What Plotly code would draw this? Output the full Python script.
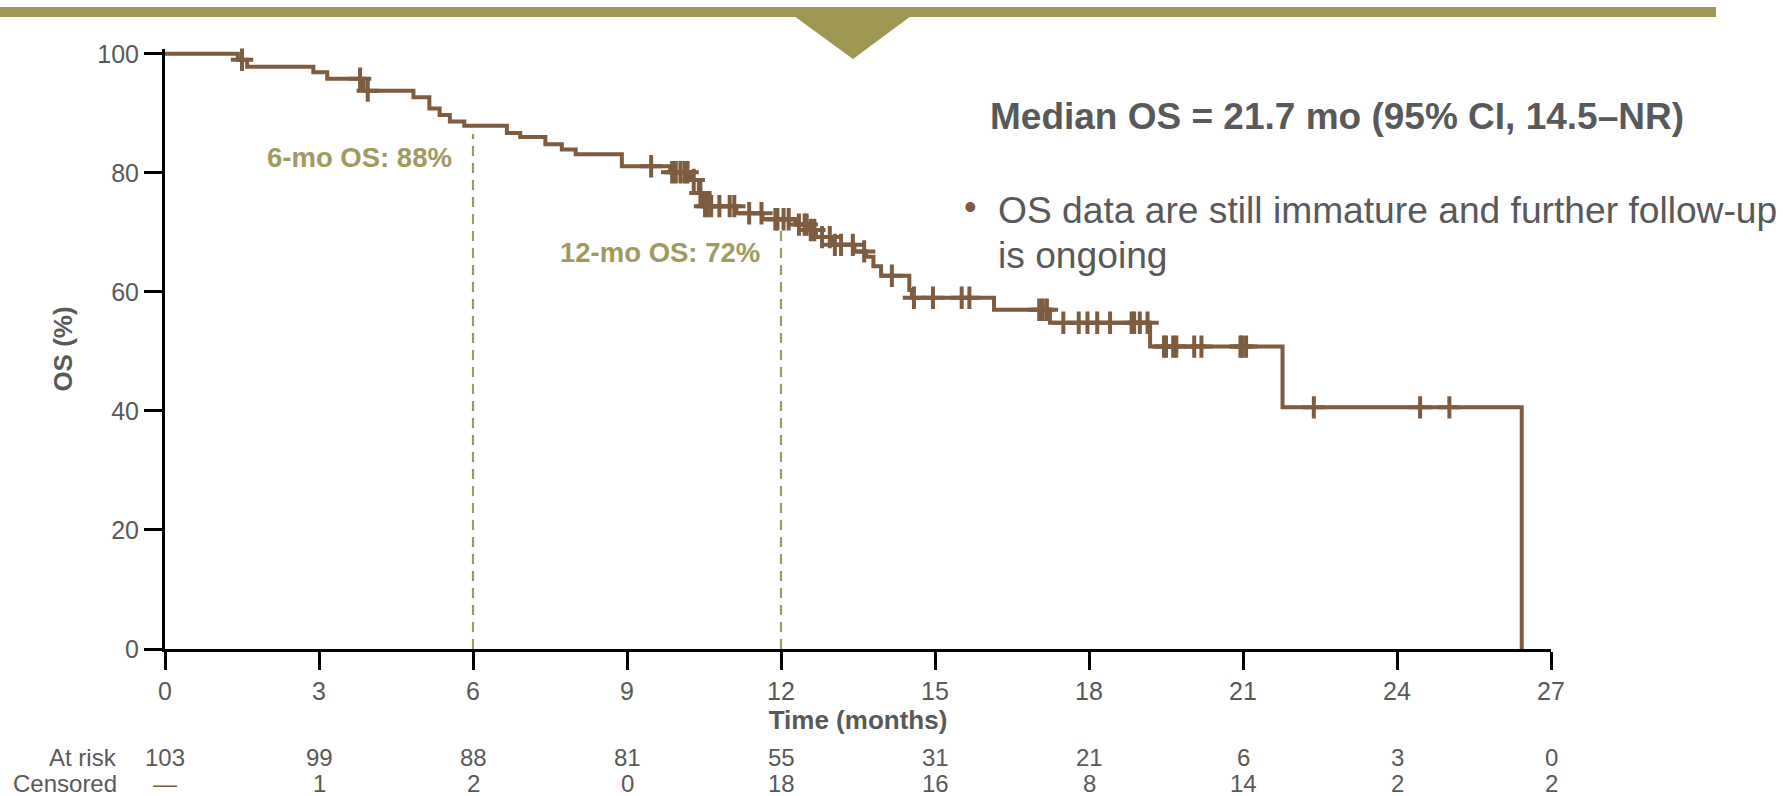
import plotly.graph_objects as go

# ---- data ----
step_months = [0, 1.42, 1.60, 2.89, 3.16, 3.87, 4.84, 5.15, 5.35, 5.55, 5.83, 6.66, 6.92, 7.41,
               7.73, 8.00, 8.90, 9.84, 10.24, 10.40, 10.49, 11.13, 11.64, 12.28, 12.54, 12.68,
               12.99, 13.43, 13.66, 13.80, 13.95, 14.50, 14.55, 16.15, 17.24, 19.19, 21.77, 26.43]
step_os = [100, 99.0, 97.8, 96.9, 95.8, 93.8, 92.7, 90.8, 89.7, 88.6, 87.9, 86.7, 86.0, 84.8,
           83.9, 83.1, 81.1, 80.1, 78.8, 76.6, 74.4, 73.2, 72.2, 71.3, 70.4, 69.2,
           67.9, 66.8, 65.9, 64.3, 62.7, 60.3, 59.0, 57.0, 54.8, 50.8, 40.6, 0]

censor_months = [1.50, 3.80, 3.95,
                 9.47, 9.88, 9.95, 10.04, 10.12, 10.18, 10.30, 10.43, 10.52, 10.57, 10.64, 10.80,
                 11.00, 11.09, 11.38, 11.62, 11.89, 11.93,
                 12.05, 12.15, 12.35, 12.46, 12.50, 12.58, 12.65, 12.80, 12.95, 13.05, 13.17,
                 13.40, 13.62, 14.16, 14.59, 14.96,
                 15.52, 15.67, 17.03, 17.10, 17.18, 17.50, 17.80, 17.97,
                 18.16, 18.41, 18.83, 18.88, 18.99, 19.14, 19.46, 19.50, 19.64, 19.70, 20.05,
                 20.19, 20.95, 20.98,
                 21.06, 22.38, 24.45, 25.02]
censor_os = [99.0, 95.8, 93.8,
             81.1, 80.1, 80.1, 80.1, 80.1, 80.1, 78.8, 76.6, 74.4, 74.4, 74.4, 74.4,
             74.4, 74.4, 73.2, 73.2, 72.2, 72.2,
             72.2, 72.2, 71.3, 71.3, 71.3, 70.4, 70.4, 69.2, 69.2, 67.9, 67.9,
             67.9, 66.8, 62.7, 59.0, 59.0,
             59.0, 59.0, 57.0, 57.0, 57.0, 54.8, 54.8, 54.8,
             54.8, 54.8, 54.8, 54.8, 54.8, 54.8, 50.8, 50.8, 50.8, 50.8, 50.8,
             50.8, 50.8, 50.8,
             50.8, 40.6, 40.6, 40.6]

tick_months = [0, 3, 6, 9, 12, 15, 18, 21, 24, 27]
os_ticks = [0, 20, 40, 60, 80, 100]
at_risk = [103, 99, 88, 81, 55, 31, 21, 6, 3, 0]
censored = ["—", 1, 2, 0, 18, 16, 8, 14, 2, 2]

landmark_months = [6, 12]
landmark_os = [88, 72]
landmark_labels = ["6-mo OS: 88%", "12-mo OS: 72%"]

median_text = "Median OS = 21.7 mo (95% CI, 14.5–NR)"
bullet_lines = ["OS data are still immature and further follow-up", "is ongoing"]

# ---- styles ----
BROWN = "#7e5c40"
OLIVE = "#9d9752"
OLIVE_TXT = "#9e9a60"
GRAY = "#595959"
DARK = "#58595b"
FONT = "Liberation Sans, Arial, sans-serif"

W, H = 1783, 796
ML, MR, MT, MB = 165, 232, 49, 147
PW, PH = W - ML - MR, H - MT - MB


def px_x(X):
    return (X - ML) / PW


def px_y(Y):
    return (H - MB - Y) / PH


fig = go.Figure()

# landmark dashed lines
for m, v in zip(landmark_months, landmark_os):
    fig.add_trace(go.Scatter(x=[m, m], y=[0, v - 1.5], mode="lines",
                             line=dict(color=OLIVE_TXT, width=2.2, dash="10px,7px"),
                             hoverinfo="skip", showlegend=False))

# KM curve
fig.add_trace(go.Scatter(x=step_months, y=step_os, mode="lines",
                         line=dict(color=BROWN, width=4, shape="hv"),
                         showlegend=False))
# censor marks
fig.add_trace(go.Scatter(x=censor_months, y=censor_os, mode="markers",
                         marker=dict(symbol="cross-thin", size=16,
                                     line=dict(color=BROWN, width=4)),
                         showlegend=False, cliponaxis=False))

annotations = []
for m, v, lab in zip(landmark_months, landmark_os, landmark_labels):
    annotations.append(dict(x=m, y=v, xref="x", yref="y", text="<b>%s</b>" % lab,
                            xanchor="right", yanchor="middle", xshift=-19, yshift=-32,
                            showarrow=False, font=dict(family=FONT, size=27.5, color=OLIVE_TXT)))

annotations.append(dict(x=px_x(988), y=px_y(117), xref="paper", yref="paper",
                        text="<b>%s</b>" % median_text, xanchor="left", yanchor="middle",
                        showarrow=False, font=dict(family=FONT, size=37, color=DARK)))
annotations.append(dict(x=px_x(970), y=px_y(207), xref="paper", yref="paper",
                        text="•", xanchor="center", yanchor="middle",
                        showarrow=False, font=dict(family=FONT, size=36, color=BROWN)))
for i, line in enumerate(bullet_lines):
    annotations.append(dict(x=px_x(996), y=px_y(210 + 44.5 * i), xref="paper", yref="paper",
                            text=line, xanchor="left", yanchor="middle", align="left",
                            showarrow=False, font=dict(family=FONT, size=37.2, color=DARK)))

# at-risk table
ROW1, ROW2 = 757, 783
annotations.append(dict(x=px_x(119), y=px_y(ROW1), xref="paper", yref="paper", text="At risk",
                        xanchor="right", yanchor="middle", showarrow=False,
                        font=dict(family=FONT, size=24, color=GRAY)))
annotations.append(dict(x=px_x(119), y=px_y(ROW2), xref="paper", yref="paper", text="Censored",
                        xanchor="right", yanchor="middle", showarrow=False,
                        font=dict(family=FONT, size=24, color=GRAY)))
for m, a, c in zip(tick_months, at_risk, censored):
    annotations.append(dict(x=m, y=px_y(ROW1), xref="x", yref="paper", text=str(a),
                            xanchor="center", yanchor="middle", showarrow=False,
                            font=dict(family=FONT, size=24, color=GRAY)))
    annotations.append(dict(x=m, y=px_y(ROW2), xref="x", yref="paper", text=str(c),
                            xanchor="center", yanchor="middle", showarrow=False,
                            font=dict(family=FONT, size=24,
                                      color=BROWN if c == "—" else GRAY)))

shapes = [
    dict(type="rect", xref="paper", yref="paper", x0=px_x(0), x1=px_x(1716),
         y0=px_y(17), y1=px_y(7), fillcolor=OLIVE, line=dict(width=0), layer="above"),
    dict(type="path", xref="paper", yref="paper",
         path="M %f %f L %f %f L %f %f Z" % (px_x(794), px_y(16), px_x(911), px_y(16),
                                            px_x(853), px_y(59)),
         fillcolor=OLIVE, line=dict(width=0), layer="above"),
]

fig.update_layout(
    width=W, height=H,
    margin=dict(l=ML, r=MR, t=MT, b=MB),
    paper_bgcolor="white", plot_bgcolor="white",
    font=dict(family=FONT, size=25, color=GRAY),
    annotations=annotations, shapes=shapes,
    xaxis=dict(range=[0, 27], tickvals=tick_months, showgrid=False, zeroline=False,
               showline=True, linecolor="black", linewidth=3,
               ticks="outside", ticklen=18, tickwidth=3, tickcolor="black",
               tickfont=dict(family=FONT, size=25, color=GRAY),
               title=dict(text="<b>Time (months)</b>", standoff=6,
                          font=dict(family=FONT, size=26, color=GRAY))),
    yaxis=dict(range=[0, 100.8], tickvals=os_ticks, showgrid=False, zeroline=False,
               showline=True, linecolor="black", linewidth=3,
               ticks="outside", ticklen=18, tickwidth=3, tickcolor="black",
               tickfont=dict(family=FONT, size=25, color=GRAY),
               title=dict(text="<b>OS (%)</b>", standoff=18,
                          font=dict(family=FONT, size=26, color=GRAY))),
)

fig.write_html("out.html")
